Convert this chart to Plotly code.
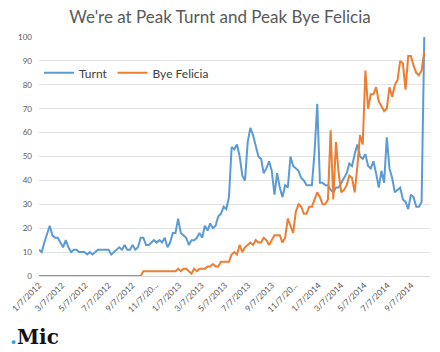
import plotly.graph_objects as go
import pandas as pd

start_date = "2012-01-07"
n_weeks = 145

turnt = [11,10,14,18,21,17,16,16,14,12,15,12,10,11,11,10,10,10,9,10,
         9,10,11,11,11,11,11,9,10,11,12,11,13,11,11,13,11,12,
         16,16,13,13,14,15,14,15,14,16,12,14,18,18,24,
         18,17,16,13,15,15,16,18,16,21,19,22,20,21,25,26,29,28,33,54,53,55,50,42,40,56,62,
         59,55,50,49,43,45,48,44,34,43,37,33,38,37,50,46,45,44,41,40,38,38,38,
         52,72,39,39,38,38,36,35,37,37,39,41,43,47,46,51,55,
         50,49,51,46,45,48,43,37,44,39,58,45,41,35,36,37,32,31,28,34,33,29,29,31,100]

bye_felicia = ([0]*39 + [2]*13 +
               [3,2,3,3,2,1,3,2,3,3,3,4,4,5,4,4,6,6,6,6,9,10,9,13,
                10,12,13,14,13,15,14,14,16,15,13,15,17,17,17,14,16,24,21,18,27,30,29,26,26,29,
                29,32,35,33,30,30,32,61,32,56,43,35,36,38,42,41,35,46,59,55,86,
                70,76,76,79,73,71,69,70,79,75,80,82,90,89,78,92,92,88,85,84,86,94])

tick_dates = ["2012-01-07","2012-03-07","2012-05-07","2012-07-07","2012-09-07","2012-11-07",
              "2013-01-07","2013-03-07","2013-05-07","2013-07-07","2013-09-07","2013-11-07",
              "2014-01-07","2014-03-07","2014-05-07","2014-07-07","2014-09-07"]
tick_text = ["1/7/2012","3/7/2012","5/7/2012","7/7/2012","9/7/2012","11/7/20...",
             "1/7/2013","3/7/2013","5/7/2013","7/7/2013","9/7/2013","11/7/20...",
             "1/7/2014","3/7/2014","5/7/2014","7/7/2014","9/7/2014"]

dates = pd.date_range(start_date, periods=n_weeks, freq="7D")

fig = go.Figure()
fig.add_trace(go.Scatter(x=dates[:len(turnt)], y=turnt, mode="lines", name="Turnt",
                         line=dict(color="#5b9bd5", width=2)))
fig.add_trace(go.Scatter(x=dates[:len(bye_felicia)], y=bye_felicia, mode="lines", name="Bye Felicia",
                         line=dict(color="#ed7d31", width=2)))

fig.update_layout(
    width=440, height=352,
    margin=dict(l=33, r=10, t=37, b=76),
    paper_bgcolor="white", plot_bgcolor="white",
    font=dict(family="Lato, Liberation Sans, sans-serif", color="#595959"),
    title=dict(text="We're at Peak Turnt and Peak Bye Felicia", x=0.5, xanchor="center",
               yref="container", y=1 - 17/352, yanchor="middle",
               font=dict(size=17, color="#595959")),
    showlegend=True,
    legend=dict(orientation="h", x=0.0, xanchor="left", y=0.85, yanchor="middle",
                font=dict(size=12, color="#404040"), bgcolor="rgba(0,0,0,0)",
                itemwidth=30),
    xaxis=dict(type="date", range=["2012-01-07", "2014-10-26"],
               tickvals=tick_dates, ticktext=tick_text, tickangle=-45,
               tickfont=dict(size=8.5, color="#595959"), showgrid=False,
               showline=True, linecolor="#d9d9d9", linewidth=1, ticks="", zeroline=False),
    yaxis=dict(range=[0, 100], dtick=10, showgrid=True, gridcolor="#e3e3e3", gridwidth=1,
               tickfont=dict(size=8, color="#595959"), zeroline=False, showline=False,
               ticks="", ticklabelstandoff=6),
)

fig.add_annotation(xref="paper", yref="paper", x=-31/397, y=-61/239, xanchor="left", yanchor="middle",
                   text="<b><span style='color:#1ea7e4'>.</span>Mic</b>", showarrow=False,
                   font=dict(family="DejaVu Serif, serif", size=20, color="#111111"))

fig.write_html("out.html")
